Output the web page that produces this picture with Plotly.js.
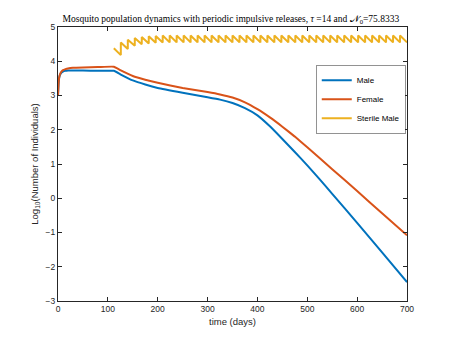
<!DOCTYPE html>
<html>
<head>
<meta charset="utf-8">
<script src="https://cdn.plot.ly/plotly-3.0.1.min.js"></script>
<style>
  html, body { margin: 0; padding: 0; background: #fff; }
  #chart { width: 450px; height: 338px; }
</style>
</head>
<body>
<div id="chart"></div>
<script>
// Wild population (log10)
const maleDays = [0, 1, 2, 4, 7, 10, 15, 20, 30, 50, 80, 112, 125, 150, 175, 200, 250, 300, 325, 350, 375, 400, 425, 450, 475, 500, 525, 550, 600, 650, 700];
const maleLog = [3.0, 3.3, 3.48, 3.6, 3.67, 3.7, 3.72, 3.73, 3.73, 3.73, 3.72, 3.72, 3.62, 3.44, 3.32, 3.22, 3.08, 2.95, 2.88, 2.78, 2.63, 2.42, 2.10, 1.73, 1.35, 0.96, 0.55, 0.13, -0.72, -1.58, -2.45];

const femaleDays = [0, 1, 2, 4, 7, 10, 15, 20, 30, 50, 80, 112, 125, 150, 175, 200, 250, 300, 325, 350, 375, 400, 425, 450, 475, 500, 550, 600, 650, 700];
const femaleLog = [3.0, 3.3, 3.5, 3.62, 3.7, 3.74, 3.77, 3.79, 3.81, 3.82, 3.83, 3.84, 3.74, 3.57, 3.46, 3.37, 3.22, 3.10, 3.03, 2.94, 2.80, 2.60, 2.36, 2.09, 1.80, 1.49, 0.85, 0.21, -0.44, -1.08];

// Sterile males: releases every tau = 14 days
const releaseDays = [112, 126, 140, 154, 168, 182, 196, 210, 224, 238, 252, 266, 280, 294, 308, 322, 336, 350, 364, 378, 392, 406, 420, 434, 448, 462, 476, 490, 504, 518, 532, 546, 560, 574, 588, 602, 616, 630, 644, 658, 672, 686];
const sterilePeak = [4.38, 4.55, 4.63, 4.68, 4.71, 4.73, 4.74, 4.75, 4.75, 4.75, 4.75, 4.75, 4.75, 4.75, 4.75, 4.75, 4.75, 4.75, 4.75, 4.75, 4.75, 4.75, 4.75, 4.75, 4.75, 4.75, 4.75, 4.75, 4.75, 4.75, 4.75, 4.75, 4.75, 4.75, 4.75, 4.75, 4.75, 4.75, 4.75, 4.75, 4.75, 4.75];
const sterileTrough = [4.18, 4.36, 4.45, 4.5, 4.52, 4.54, 4.55, 4.55, 4.55, 4.55, 4.55, 4.55, 4.55, 4.55, 4.55, 4.55, 4.55, 4.55, 4.55, 4.55, 4.55, 4.55, 4.55, 4.55, 4.55, 4.55, 4.55, 4.55, 4.55, 4.55, 4.55, 4.55, 4.55, 4.55, 4.55, 4.55, 4.55, 4.55, 4.55, 4.55, 4.55, 4.55];
const tau = 14;

// build the sawtooth: peak at each release, decay until the next one
const sterileX = [];
const sterileY = [];
releaseDays.forEach((d, i) => {
    sterileX.push(d, d + tau);
    sterileY.push(sterilePeak[i], sterileTrough[i]);
});

const traces = [
    { x: maleDays, y: maleLog, name: 'Male', type: 'scatter', mode: 'lines',
      line: { color: '#0072BD', width: 2, shape: 'spline', smoothing: 0.4 } },
    { x: femaleDays, y: femaleLog, name: 'Female', type: 'scatter', mode: 'lines',
      line: { color: '#D95319', width: 2, shape: 'spline', smoothing: 0.4 } },
    { x: sterileX, y: sterileY, name: 'Sterile Male', type: 'scatter', mode: 'lines',
      line: { color: '#EDB120', width: 2 } }
];

const axisStyle = {
    showline: true,
    mirror: 'ticks',
    ticks: 'inside',
    ticklen: 4,
    linecolor: '#262626',
    linewidth: 1,
    tickcolor: '#262626',
    showgrid: false,
    zeroline: false,
    tickfont: { family: 'Liberation Sans, Arial, sans-serif', size: 8.5, color: '#262626' }
};

const layout = {
    width: 450,
    height: 338,
    margin: { l: 58, r: 43, t: 27, b: 37 },
    paper_bgcolor: '#fff',
    plot_bgcolor: '#fff',
    title: {
        text: 'Mosquito population dynamics with periodic impulsive releases, <i>τ</i> =14 and 𝒩<sub>0</sub>=75.8333',
        font: { family: 'Liberation Serif, Times New Roman, serif', size: 9.5, color: '#000' },
        x: 0.513,
        xanchor: 'center',
        y: 0.945,
        yanchor: 'middle'
    },
    xaxis: Object.assign({}, axisStyle, {
        range: [0, 700],
        tickvals: [0, 100, 200, 300, 400, 500, 600, 700],
        title: { text: 'time (days)', standoff: 5,
                 font: { family: 'Liberation Sans, Arial, sans-serif', size: 9.5, color: '#262626' } }
    }),
    yaxis: Object.assign({}, axisStyle, {
        range: [-3, 5],
        tickvals: [-3, -2, -1, 0, 1, 2, 3, 4, 5],
        title: { text: 'Log<sub>10</sub>(Number of Individuals)', standoff: 5,
                 font: { family: 'Liberation Sans, Arial, sans-serif', size: 9.5, color: '#262626' } }
    }),
    showlegend: true,
    legend: {
        x: 0.74,
        y: 0.86,
        xanchor: 'left',
        yanchor: 'top',
        bgcolor: '#fff',
        bordercolor: '#262626',
        borderwidth: 0.5,
        font: { family: 'Liberation Sans, Arial, sans-serif', size: 8, color: '#000' },
        tracegroupgap: 0,
        itemwidth: 30
    }
};

Plotly.newPlot('chart', traces, layout, { displayModeBar: false, staticPlot: true });
</script>
</body>
</html>
